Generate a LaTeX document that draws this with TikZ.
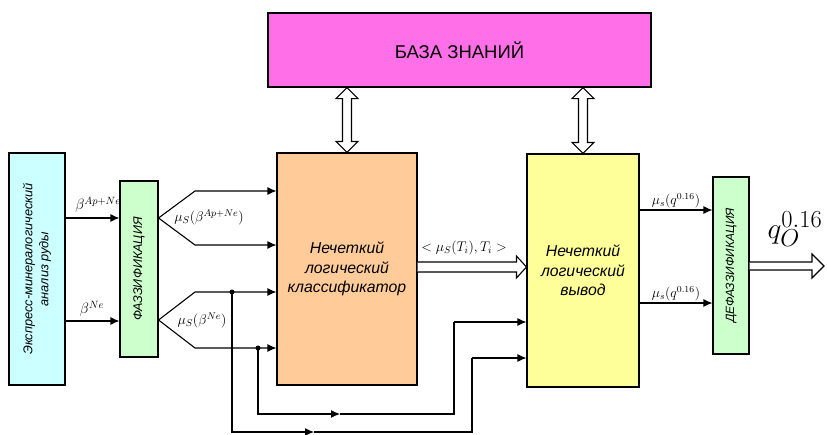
\RequirePackage{fix-cm}
\documentclass[tikz,border=0pt]{standalone}
\usepackage{fontspec}
\setmainfont{Liberation Sans}
\usetikzlibrary{arrows.meta,calc}
\definecolor{cyanbox}{HTML}{CCFFFF}
\definecolor{greenbox}{HTML}{CCFFCC}
\definecolor{orangebox}{HTML}{FFCC99}
\definecolor{yellowbox}{HTML}{FFFF99}
\definecolor{pinkbox}{HTML}{FF70E8}
\begin{document}
\begin{tikzpicture}[x=1pt,y=-1pt,line width=1.1pt,
  >={Latex[length=9pt,width=8pt]},
  box/.style={draw,line width=1.1pt,inner sep=0pt,align=center},
  hollow/.style={draw,fill=white,line width=1.1pt,line join=miter},
  dot/.style={circle,fill,inner sep=0pt,minimum size=5pt},
  lbl/.style={inner sep=0pt}]
\useasboundingbox (0,0) rectangle (827,434);

% boxes
\node[box,fill=cyanbox,minimum width=56pt,minimum height=232pt] (exp) at (37,269) {};
\node[rotate=90,align=center,font=\fontsize{12.8}{16}\selectfont\itshape] at (exp.center) {Экспресс-минералогический\\анализ руды};
\node[box,fill=greenbox,minimum width=38pt,minimum height=176pt] (fuzz) at (139,269) {};
\node[rotate=90,font=\fontsize{12.6}{14}\selectfont\itshape] at (fuzz.center) {ФАЗЗИФИКАЦИЯ};
\node[box,fill=orangebox,minimum width=140pt,minimum height=232pt,font=\fontsize{15.8}{19.5}\selectfont\itshape] (cls) at (347,269) {Нечеткий\\логический\\классификатор};
\node[box,fill=yellowbox,minimum width=112pt,minimum height=233pt,font=\fontsize{15.8}{19.5}\selectfont\itshape] (inf) at (583,270.5) {Нечеткий\\логический\\вывод};
\node[box,fill=pinkbox,minimum width=383pt,minimum height=74pt,font=\fontsize{18.5}{20}\selectfont] (kb) at (459.5,50) {БАЗА ЗНАНИЙ};
\node[box,fill=greenbox,minimum width=36pt,minimum height=177pt] (dfz) at (731,265.5) {};
\node[rotate=90,font=\fontsize{12}{14}\selectfont\itshape] at (dfz.center) {ДЕФАЗЗИФИКАЦИЯ};

% inputs to fuzzification
\draw[->] (exp.east |- 0,218) -- (fuzz.west |- 0,218);
\draw[->] (exp.east |- 0,321) -- (fuzz.west |- 0,321);
\node[lbl,font=\fontsize{15}{18}\selectfont] (b1) at (98,205) {$\beta^{Ap+Ne}$};
\node[lbl,font=\fontsize{15}{18}\selectfont] (b2) at (92,309) {$\beta^{Ne}$};

% forks
\coordinate (t1) at (fuzz.east |- 0,218);
\coordinate (t2) at (fuzz.east |- 0,320);
\coordinate (f1) at (195,191);
\coordinate (f2) at (195,245);
\coordinate (f3) at (195,292);
\coordinate (f4) at (195,348);
\draw[->] (t1) -- (f1) -- (cls.west |- f1);
\draw[->] (t1) -- (f2) -- (cls.west |- f2);
\draw[->] (t2) -- (f3) -- (cls.west |- f3);
\draw[->] (t2) -- (f4) -- (cls.west |- f4);
\node[lbl,font=\fontsize{14}{16}\selectfont] (m1) at (209,217) {$\mu_S\bigl(\beta^{Ap+Ne}\bigr)$};
\node[lbl,font=\fontsize{14}{16}\selectfont] (m2) at (202,320) {$\mu_S\bigl(\beta^{Ne}\bigr)$};

% branch dots and bypass lines
\node[dot] (d1) at (232,292) {};
\node[dot] (d2) at (258,348) {};
\coordinate (a1) at (258,414);
\coordinate (a2) at (340,414);
\coordinate (a3) at (454,414);
\coordinate (a4) at (454,322);
\draw[->] (d2.center) -- (a1) -- (a2);
\draw (a2) -- (a3) -- (a4);
\draw[->] (a4) -- (inf.west |- a4);
\coordinate (c1) at (232,432);
\coordinate (c2) at (314,432);
\coordinate (c3) at (472,432);
\coordinate (c4) at (472,358);
\draw[->] (d1.center) -- (c1) -- (c2);
\draw (c2) -- (c3) -- (c4);
\draw[->] (c4) -- (inf.west |- c4);

% hollow arrow classifier -> inference
\coordinate (hs) at (cls.east |- 0,267);
\coordinate (he) at (inf.west |- 0,267);
\draw[hollow] ($(hs)+(0,-5)$) -- ($(he)+(-10,-5)$) -- ++(0,-6) -- (he) -- ++(-10,11) -- ++(0,-6) -- ($(hs)+(0,5)$);
\node[lbl,font=\fontsize{14}{16}\selectfont] (tl) at (464,248) {$<\mu_S\bigl(T_i\bigr),T_i>$};

% knowledge base double arrows
\coordinate (kT1) at (cls.north |- kb.south);
\coordinate (kB1) at (cls.north);
\coordinate (kT2) at (inf.north |- kb.south);
\coordinate (kB2) at (inf.north);
\draw[hollow] (kT1) -- ++(11,11) -- ++(-6.5,0) -- ($(kB1)+(4.5,-11)$) -- ++(6.5,0) -- (kB1) -- ++(-11,-11) -- ++(6.5,0) -- ($(kT1)+(-4.5,11)$) -- ++(-6.5,0) -- cycle;
\draw[hollow] (kT2) -- ++(11,11) -- ++(-6.5,0) -- ($(kB2)+(4.5,-11)$) -- ++(6.5,0) -- (kB2) -- ++(-11,-11) -- ++(6.5,0) -- ($(kT2)+(-4.5,11)$) -- ++(-6.5,0) -- cycle;

% outputs of inference
\draw[->] (inf.east |- 0,210) -- (dfz.west |- 0,210);
\draw[->] (inf.east |- 0,303) -- (dfz.west |- 0,303);
\node[lbl,font=\fontsize{12}{14}\selectfont,scale=1.15] (q1) at (676,201) {$\mu_s\bigl(q^{0.16}\bigr)$};
\node[lbl,font=\fontsize{12}{14}\selectfont,scale=1.15] (q2) at (676,294) {$\mu_s\bigl(q^{0.16}\bigr)$};

% final output
\coordinate (os) at (dfz.east |- 0,266);
\coordinate (oe) at (824,266);
\draw[hollow] ($(os)+(0,-4)$) -- ($(oe)+(-12,-4)$) -- ++(0,-8) -- (oe) -- ++(-12,12) -- ++(0,-8) -- ($(os)+(0,4)$);
\node[lbl,font=\Huge,scale=1.18] (qo) at (795,229) {$q_O^{0.16}$};
\end{tikzpicture}
\end{document}
